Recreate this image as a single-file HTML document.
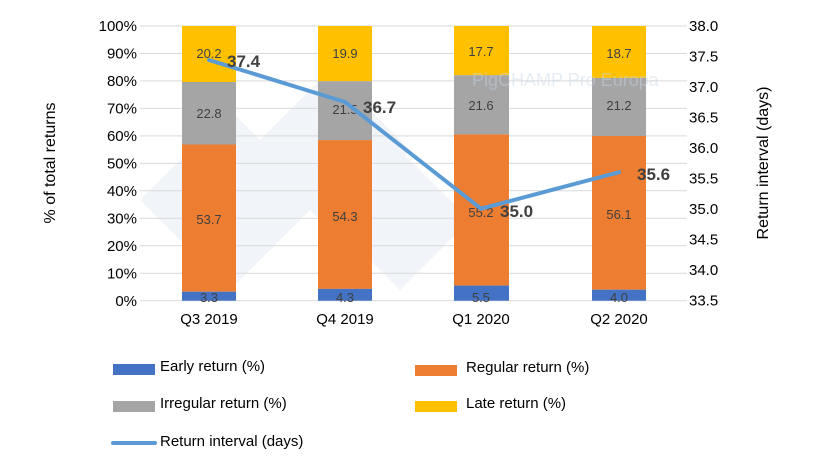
<!DOCTYPE html>
<html><head><meta charset="utf-8"><style>
html,body{margin:0;padding:0;background:#fff;}
svg{display:block;font-family:"Liberation Sans",Arial,sans-serif;}
</style></head><body>
<svg width="820" height="462" viewBox="0 0 820 462" xmlns="http://www.w3.org/2000/svg">
<rect width="820" height="462" fill="#fff"/>
<!-- watermark diamonds -->
<g fill="#f1f4f8">
<polygon points="230,110 320,200 230,290 140,200"/>
<polygon points="330,70 410,150 330,230 250,150"/>
<polygon points="400,150 470,220 400,290 330,220"/>
</g>
<!-- grid -->
<g stroke="#d9d9d9" stroke-width="1">
<line x1="140" x2="687" y1="26" y2="26"/><line x1="140" x2="687" y1="53.5" y2="53.5"/>
<line x1="140" x2="687" y1="80.9" y2="80.9"/><line x1="140" x2="687" y1="108.4" y2="108.4"/>
<line x1="140" x2="687" y1="135.9" y2="135.9"/><line x1="140" x2="687" y1="163.4" y2="163.4"/>
<line x1="140" x2="687" y1="190.8" y2="190.8"/><line x1="140" x2="687" y1="218.3" y2="218.3"/>
<line x1="140" x2="687" y1="245.8" y2="245.8"/><line x1="140" x2="687" y1="273.2" y2="273.2"/>
<line x1="140" x2="687" y1="300.7" y2="300.7"/>
</g>
<!-- bars -->
<g>
<rect x="182" y="26" width="54" height="56" fill="#ffc000"/>
<rect x="182" y="82" width="54" height="62.5" fill="#a5a5a5"/>
<rect x="182" y="144.5" width="54" height="147.2" fill="#ed7d31"/>
<rect x="182" y="291.7" width="54" height="9" fill="#4472c4"/>

<rect x="318" y="26" width="54" height="55.2" fill="#ffc000"/>
<rect x="318" y="81.2" width="54" height="58.9" fill="#a5a5a5"/>
<rect x="318" y="140.1" width="54" height="148.8" fill="#ed7d31"/>
<rect x="318" y="288.9" width="54" height="11.8" fill="#4472c4"/>

<rect x="454" y="26" width="55" height="49.2" fill="#ffc000"/>
<rect x="454" y="75.2" width="55" height="59.2" fill="#a5a5a5"/>
<rect x="454" y="134.4" width="55" height="151.2" fill="#ed7d31"/>
<rect x="454" y="285.6" width="55" height="15.1" fill="#4472c4"/>

<rect x="592" y="26" width="54" height="51.9" fill="#ffc000"/>
<rect x="592" y="77.9" width="54" height="58.1" fill="#a5a5a5"/>
<rect x="592" y="136" width="54" height="153.7" fill="#ed7d31"/>
<rect x="592" y="289.7" width="54" height="11" fill="#4472c4"/>
</g>
<text x="472" y="86" font-size="18" fill="#c9d6e6" opacity="0.45">PigCHAMP Pro Europa</text>
<!-- segment labels -->
<g font-size="13" fill="#404040" text-anchor="middle">
<text x="209" y="58">20.2</text><text x="209" y="118">22.8</text><text x="209" y="224">53.7</text><text x="209" y="302">3.3</text>
<text x="345" y="58">19.9</text><text x="345" y="114">21.5</text><text x="345" y="221">54.3</text><text x="345" y="302">4.3</text>
<text x="481" y="56">17.7</text><text x="481" y="110">21.6</text><text x="481" y="217">55.2</text><text x="481" y="302">5.5</text>
<text x="619" y="58">18.7</text><text x="619" y="110">21.2</text><text x="619" y="219">56.1</text><text x="619" y="302">4.0</text>
</g>
<!-- line -->
<polyline points="209,60 345,102 481,208.7 619,172.2" fill="none" stroke="#5b9bd5" stroke-width="4" stroke-linejoin="round" stroke-linecap="round"/>
<g font-size="17" font-weight="bold" fill="#404040">
<text x="227" y="67">37.4</text>
<text x="363" y="113">36.7</text>
<text x="500" y="217">35.0</text>
<text x="637" y="180">35.6</text>
</g>
<!-- left axis labels -->
<g font-size="15" fill="#000" text-anchor="end">
<text x="137" y="31">100%</text><text x="137" y="58.5">90%</text><text x="137" y="86">80%</text>
<text x="137" y="113.5">70%</text><text x="137" y="141">60%</text><text x="137" y="168.5">50%</text>
<text x="137" y="196">40%</text><text x="137" y="223.5">30%</text><text x="137" y="251">20%</text>
<text x="137" y="278.5">10%</text><text x="137" y="306">0%</text>
</g>
<!-- right axis labels -->
<g font-size="15" fill="#000">
<text x="689" y="31">38.0</text><text x="689" y="61.5">37.5</text><text x="689" y="92">37.0</text>
<text x="689" y="122.5">36.5</text><text x="689" y="153">36.0</text><text x="689" y="183.5">35.5</text>
<text x="689" y="214">35.0</text><text x="689" y="244.5">34.5</text><text x="689" y="275">34.0</text>
<text x="689" y="305.5">33.5</text>
</g>
<!-- category labels -->
<g font-size="15" fill="#000" text-anchor="middle">
<text x="209" y="324">Q3 2019</text><text x="345" y="324">Q4 2019</text>
<text x="481" y="324">Q1 2020</text><text x="619" y="324">Q2 2020</text>
</g>
<text transform="translate(55,163) rotate(-90)" font-size="16" text-anchor="middle">% of total returns</text>
<text transform="translate(768,163) rotate(-90)" font-size="16" text-anchor="middle">Return interval (days)</text>
<!-- legend -->
<rect x="113" y="364" width="42" height="11" fill="#4472c4"/>
<text x="160" y="371" font-size="15">Early return (%)</text>
<rect x="415" y="365" width="42" height="11" fill="#ed7d31"/>
<text x="466" y="372" font-size="15">Regular return (%)</text>
<rect x="113" y="401" width="42" height="11" fill="#a5a5a5"/>
<text x="160" y="408" font-size="15">Irregular return (%)</text>
<rect x="415" y="401" width="42" height="11" fill="#ffc000"/>
<text x="466" y="408" font-size="15">Late return (%)</text>
<line x1="113" x2="155" y1="443" y2="443" stroke="#5b9bd5" stroke-width="4" stroke-linecap="round"/>
<text x="160" y="446" font-size="15">Return interval (days)</text>
</svg>
</body></html>
